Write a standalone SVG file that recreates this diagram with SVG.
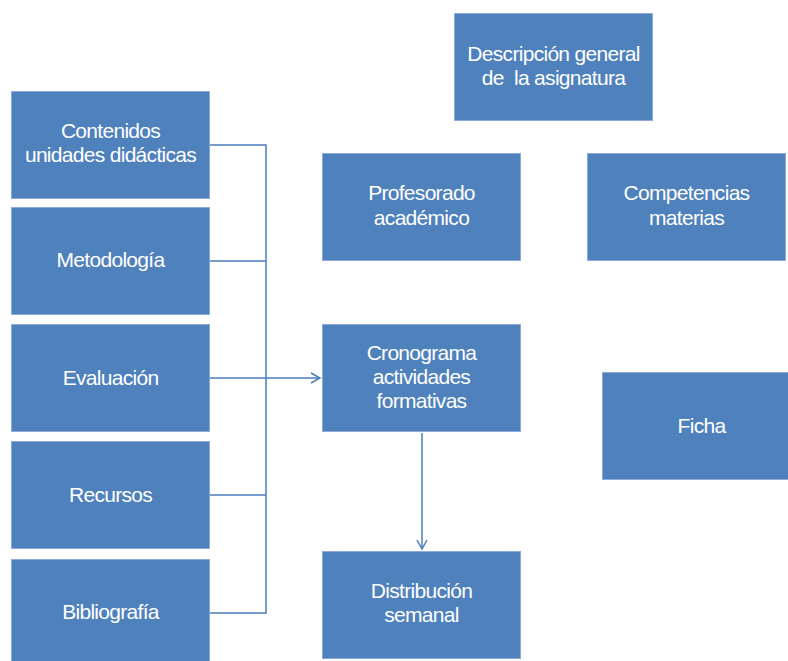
<svg xmlns="http://www.w3.org/2000/svg" width="788" height="661" viewBox="0 0 788 661">
<defs>
<style>
.box{fill:#4F81BD;stroke:#8EAADB;stroke-width:1}
.t{fill:#FFFFFF;font-family:"Liberation Sans",Arial,sans-serif;font-size:21px;text-anchor:middle;letter-spacing:-0.7px;white-space:pre}
.c{fill:none;stroke:#4A7EBB;stroke-width:1.5}
</style>
<marker id="ah" markerWidth="12" markerHeight="12" refX="10" refY="6" orient="auto" markerUnits="userSpaceOnUse">
<path d="M1,1 L10,6 L1,11" fill="none" stroke="#4A7EBB" stroke-width="1.5"/>
</marker>
</defs>
<rect width="788" height="661" fill="#FFFFFF"/>
<g id="connectors">
<path class="c" d="M210,145 H266 V613 H210"/>
<path class="c" d="M210,261 H266"/>
<path class="c" d="M210,495 H266"/>
<path class="c" d="M210,378 H320" marker-end="url(#ah)"/>
<path class="c" d="M422,433 V549" marker-end="url(#ah)"/>
</g>
<g id="descripcion"><rect class="box" x="454.5" y="13.5" width="198" height="107"/><text class="t" x="553.5" y="61">Descripción general</text><text class="t" x="553.5" y="85" xml:space="preserve">de  la asignatura</text></g>
<g id="contenidos"><rect class="box" x="11.5" y="91.5" width="198" height="107"/><text class="t" x="110.5" y="138">Contenidos</text><text class="t" x="110.5" y="162">unidades didácticas</text></g>
<g id="metodologia"><rect class="box" x="11.5" y="207.5" width="198" height="107"/><text class="t" x="110.5" y="267">Metodología</text></g>
<g id="evaluacion"><rect class="box" x="11.5" y="324.5" width="198" height="107"/><text class="t" x="110.5" y="385">Evaluación</text></g>
<g id="recursos"><rect class="box" x="11.5" y="441.5" width="198" height="107"/><text class="t" x="110.5" y="502">Recursos</text></g>
<g id="bibliografia"><rect class="box" x="11.5" y="559.5" width="198" height="107"/><text class="t" x="110.5" y="619">Bibliografía</text></g>
<g id="profesorado"><rect class="box" x="322.5" y="153.5" width="198" height="107"/><text class="t" x="421.5" y="200">Profesorado</text><text class="t" x="421.5" y="225">académico</text></g>
<g id="competencias"><rect class="box" x="587.5" y="153.5" width="198" height="107"/><text class="t" x="686.5" y="200">Competencias</text><text class="t" x="686.5" y="225">materias</text></g>
<g id="cronograma"><rect class="box" x="322.5" y="324.5" width="198" height="107"/><text class="t" x="421.5" y="360">Cronograma</text><text class="t" x="421.5" y="384">actividades</text><text class="t" x="421.5" y="408">formativas</text></g>
<g id="ficha"><rect class="box" x="602.5" y="372.5" width="198" height="107"/><text class="t" x="701.5" y="433">Ficha</text></g>
<g id="distribucion"><rect class="box" x="322.5" y="551.5" width="198" height="107"/><text class="t" x="421.5" y="598">Distribución</text><text class="t" x="421.5" y="622">semanal</text></g>
</svg>
